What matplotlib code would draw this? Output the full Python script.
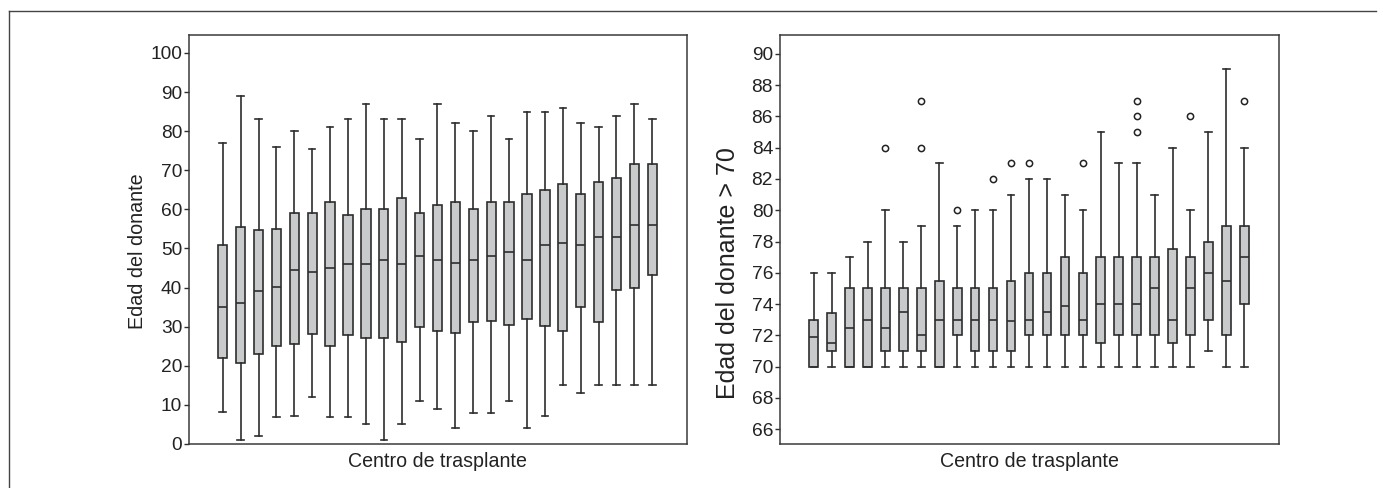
import matplotlib
matplotlib.use("Agg")
import matplotlib.pyplot as plt
from matplotlib.lines import Line2D

plt.rcParams['font.family'] = ['Liberation Sans', 'DejaVu Sans']

# left panel: Edad del donante, 25 centros
L_whishi = [77, 89, 83, 76, 80, 75.5, 81, 83, 87, 83, 83, 78, 87, 82, 80, 84, 78, 85, 85, 86, 82, 81, 84, 87, 83]
L_q3 = [51, 55.5, 54.7, 55, 59, 59, 62, 58.5, 60, 60, 63, 59, 61, 62, 60, 62, 62, 64, 65, 66.5, 64, 67, 68, 71.5, 71.5]
L_med = [35, 36, 39, 40.2, 44.5, 44, 45, 46, 46, 47, 46, 48, 47, 46.2, 47, 48, 49, 47, 51, 51.5, 51, 53, 53, 56, 56]
L_q1 = [22, 20.8, 23, 25, 25.5, 28.2, 25, 28, 27, 27, 26, 30, 29, 28.5, 31.2, 31.5, 30.5, 32, 30.2, 29, 35, 31.2, 39.5, 40, 43.2]
L_whislo = [8.3, 1, 2, 7, 7.2, 12, 7, 7, 5, 1, 5, 11, 9, 4, 8, 8, 11, 4, 7.2, 15, 13, 15, 15, 15, 15]

# right panel: Edad del donante > 70
R_whishi = [76, 76, 77, 78, 80, 78, 79, 83, 79, 80, 80, 81, 82, 82, 81, 80, 85, 83, 83, 81, 84, 80, 85, 89, 84]
R_q3 = [73, 73.4, 75, 75, 75, 75, 75, 75.5, 75, 75, 75, 75.5, 76, 76, 77, 76, 77, 77, 77, 77, 77.5, 77, 78, 79, 79]
R_med = [71.9, 71.5, 72.5, 73, 72.5, 73.5, 72, 73, 73, 73, 73, 72.9, 73, 73.5, 73.9, 73, 74, 74, 74, 75, 73, 75, 76, 75.5, 77]
R_q1 = [70, 71, 70, 70, 71, 71, 71, 70, 72, 71, 71, 71, 72, 72, 72, 72, 71.5, 72, 72, 72, 71.5, 72, 73, 72, 74]
R_whislo = [70, 70, 70, 70, 70, 70, 70, 70, 70, 70, 70, 70, 70, 70, 70, 70, 70, 70, 70, 70, 70, 70, 71, 70, 70]
R_fliers = [[], [], [], [], [84], [], [84, 87], [], [80], [], [82], [83], [83], [], [], [83],
            [], [], [85, 86, 87], [], [], [86], [], [], [87]]

xlabel = 'Centro de trasplante'
ylabel_left = 'Edad del donante'
ylabel_right = 'Edad del donante > 70'

edge = '#2e2e2e'
face = '#c9cacc'
txt = '#222222'


def make_stats(lo, q1, med, q3, hi, fl=None):
    out = []
    for i in range(len(med)):
        out.append({'whislo': lo[i], 'q1': q1[i], 'med': med[i], 'q3': q3[i],
                    'whishi': hi[i], 'fliers': fl[i] if fl else []})
    return out


def draw(ax, stats, ylim, yticks, width):
    pos = list(range(1, len(stats) + 1))
    ax.bxp(stats, positions=pos, widths=width, capwidths=0.36, patch_artist=True,
           showfliers=True,
           boxprops=dict(facecolor=face, edgecolor=edge, linewidth=1.2),
           medianprops=dict(color=edge, linewidth=1.2),
           whiskerprops=dict(color=edge, linewidth=1.2),
           capprops=dict(color=edge, linewidth=1.2),
           flierprops=dict(marker='o', markersize=4.5, markerfacecolor='white',
                           markeredgecolor='#222222', markeredgewidth=1.1))
    ax.set_xlim(-0.88, 26.92)
    ax.set_ylim(*ylim)
    ax.set_yticks(yticks)
    ax.set_xticks([])
    ax.tick_params(axis='y', direction='out', length=3.5, width=1, color=edge,
                   labelsize=13.8, pad=1.5, labelcolor=txt)
    for s in ax.spines.values():
        s.set_color('#3a3a3a')
        s.set_linewidth(1.1)
    ax.set_xlabel(xlabel, fontsize=14.1, color=txt, labelpad=6)


fig = plt.figure(figsize=(13.83, 4.88), dpi=100)
ax1 = fig.add_axes([0.1367, 0.0902, 0.3598, 0.8381])
ax2 = fig.add_axes([0.5640, 0.0902, 0.3606, 0.8381])

draw(ax1, make_stats(L_whislo, L_q1, L_med, L_q3, L_whishi), (0, 104.6),
     list(range(0, 101, 10)), 0.52)
draw(ax2, make_stats(R_whislo, R_q1, R_med, R_q3, R_whishi, R_fliers), (65.06, 91.2),
     list(range(66, 91, 2)), 0.48)

ax1.set_ylabel(ylabel_left, fontsize=14.2, color=txt)
ax1.yaxis.set_label_coords(-0.085, 0.472)
ax2.set_ylabel(ylabel_right, fontsize=18, color=txt)
ax2.yaxis.set_label_coords(-0.080, 0.418)

# outer frame (top and left edges visible)
fig.add_artist(Line2D([0.0065, 0.0065], [0.0, 0.9775], color='#444444', linewidth=1))
fig.add_artist(Line2D([0.0065, 0.995], [0.9775, 0.9775], color='#444444', linewidth=1))

fig.savefig('out.png', dpi=100)
